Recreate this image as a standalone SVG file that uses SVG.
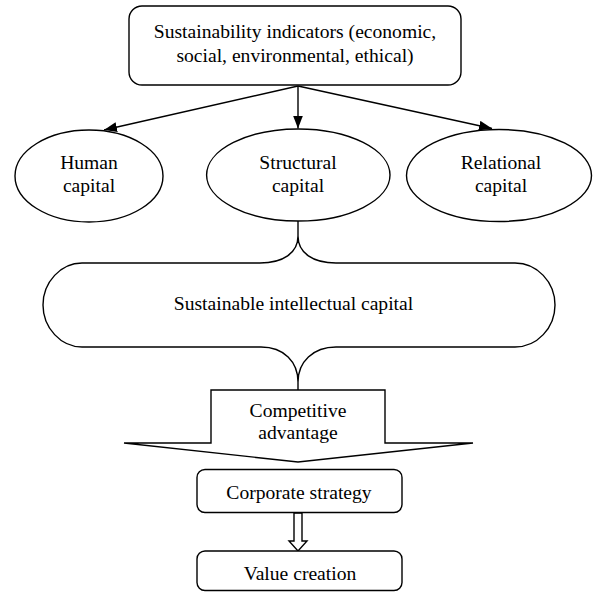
<svg xmlns="http://www.w3.org/2000/svg" width="593" height="592" viewBox="0 0 593 592">
<defs>
<style>
.s{fill:#fff;stroke:#000;stroke-width:1.4}
.t{font-family:"Liberation Serif","Times New Roman",serif;font-size:19.6px;fill:#000;text-anchor:middle}
.c{fill:none;stroke:#000;stroke-width:1.4}
</style>
<marker id="ah" markerWidth="13" markerHeight="10" refX="13" refY="5" orient="auto" markerUnits="userSpaceOnUse">
<path d="M0,0 L13,5 L0,10 Z" fill="#000"/>
</marker>
</defs>
<rect width="593" height="592" fill="#fff"/>
<g id="connectors">
<line class="c" x1="298" y1="86" x2="104" y2="130" marker-end="url(#ah)"/>
<line class="c" x1="298" y1="86" x2="298" y2="128.5" marker-end="url(#ah)"/>
<line class="c" x1="298" y1="86" x2="492" y2="128.5" marker-end="url(#ah)"/>
<polygon class="s" points="294,513 302,513 302,541 307,541 298,551 289,541 294,541"/>
</g>
<g id="indicators">
<rect class="s" x="129" y="6" width="332" height="79" rx="13"/>
<text class="t" x="295" y="37.5">Sustainability indicators (economic,</text>
<text class="t" x="295" y="61.5">social, environmental, ethical)</text>
</g>
<g id="human">
<ellipse class="s" cx="89" cy="176" rx="74" ry="46"/>
<text class="t" x="89" y="169">Human</text>
<text class="t" x="89" y="191.5">capital</text>
</g>
<g id="structural">
<ellipse class="s" cx="298.3" cy="175" rx="91.7" ry="46"/>
<text class="t" x="298" y="169">Structural</text>
<text class="t" x="298" y="191.5">capital</text>
</g>
<g id="relational">
<ellipse class="s" cx="499" cy="175.5" rx="92.5" ry="46"/>
<text class="t" x="501" y="169">Relational</text>
<text class="t" x="501" y="191.5">capital</text>
</g>
<g id="sic">
<path class="s" d="M298,236 C298,253 283,263 260,263 H82 C61,263 43,282 43,305 C43,328 61,347 82,347 H261 C284,347 298,362 298,382 C298,362 313,347 336,347 H515 C537,347 555,328 555,305 C555,282 537,263 515,263 H336 C313,263 298,253 298,236 Z"/>
<path class="c" d="M298,221 V236 M298,382 V390"/>
<text class="t" x="293.5" y="310">Sustainable intellectual capital</text>
</g>
<g id="competitive">
<polygon class="s" points="211,390 385,390 385,443 473,443 298,462 124,443 211,443"/>
<text class="t" x="298" y="416.5">Competitive</text>
<text class="t" x="298" y="439">advantage</text>
</g>
<g id="strategy">
<rect class="s" x="197" y="469.5" width="205" height="43" rx="8"/>
<text class="t" x="299" y="499">Corporate strategy</text>
</g>
<g id="value">
<rect class="s" x="197" y="551" width="205" height="39.5" rx="8"/>
<text class="t" x="300" y="580">Value creation</text>
</g>
</svg>
